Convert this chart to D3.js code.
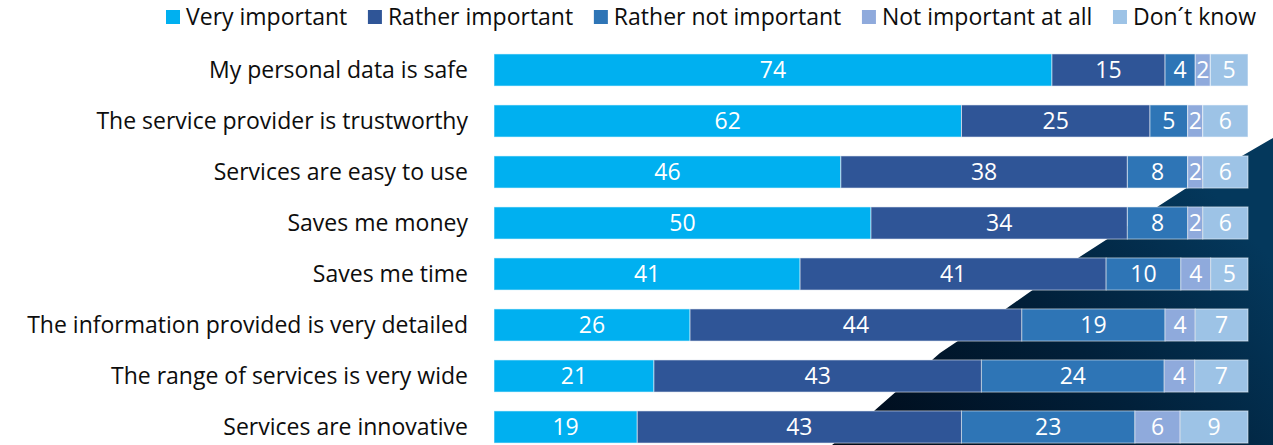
<!DOCTYPE html>
<html><head><meta charset="utf-8">
<script src="https://cdn.jsdelivr.net/npm/d3@7"></script>
<style>html,body{margin:0;padding:0;background:#fff;}svg{display:block;}</style>
</head><body>
<svg id="chart" width="1273" height="445"></svg>
<script>
const categories = [
  "My personal data is safe",
  "The service provider is trustworthy",
  "Services are easy to use",
  "Saves me money",
  "Saves me time",
  "The information provided is very detailed",
  "The range of services is very wide",
  "Services are innovative"
];
const seriesNames = ["Very important","Rather important","Rather not important","Not important at all","Don\u00b4t know"];
const veryImportant      = [74, 62, 46, 50, 41, 26, 21, 19];
const ratherImportant    = [15, 25, 38, 34, 41, 44, 43, 43];
const ratherNotImportant = [4, 5, 8, 8, 10, 19, 24, 23];
const notImportantAtAll  = [2, 2, 2, 2, 4, 4, 4, 6];
const dontKnow           = [5, 6, 6, 6, 5, 7, 7, 9];
const seriesValues = [veryImportant, ratherImportant, ratherNotImportant, notImportantAtAll, dontKnow];
const colors = ["#00b0f0","#2f5597","#2e75b6","#8faadc","#9dc3e6"];

const svg = d3.select("#chart");
const FONT = "'Open Sans', Lato, sans-serif";

// fit font size so the first label width matches the reference (~259px)
const probe = svg.append("text").style("font-family",FONT).style("font-size","20px").text(categories[0]);
const fs = 20 * 259 / probe.node().getComputedTextLength();
probe.remove();
const FS = fs.toFixed(2) + "px";

// decorative background shape
const defs = svg.append("defs");
const grad = defs.append("linearGradient").attr("id","bgGrad")
  .attr("x1","0").attr("y1","1").attr("x2","1").attr("y2","0.4");
grad.append("stop").attr("offset","0").attr("stop-color","#000a18");
grad.append("stop").attr("offset","0.55").attr("stop-color","#01203a");
grad.append("stop").attr("offset","1").attr("stop-color","#04385c");
svg.append("path")
  .attr("d","M1273,138 L1185,189 L1078,258 L1007,308 L940,353 L874,411 L832,445 L1273,445 Z")
  .attr("fill","url(#bgGrad)");

// table
const table = categories.map((c,i) => {
  const row = {category:c};
  seriesNames.forEach((s,j) => row[s] = seriesValues[j][i]);
  return row;
});
const stack = d3.stack().keys(seriesNames).offset(d3.stackOffsetExpand)(table);

const x = d3.scaleLinear().domain([0,1]).range([494,1248]);
const y = d3.scaleBand().domain(categories).range([44.5,452.5]).paddingInner(0.37).paddingOuter(0.185);
const color = d3.scaleOrdinal().domain(seriesNames).range(colors);

const layers = svg.append("g").selectAll("g").data(stack).join("g")
  .attr("fill", d => color(d.key));
layers.selectAll("rect").data(d => d).join("rect")
  .attr("x", d => x(d[0]))
  .attr("y", d => y(d.data.category))
  .attr("width", d => x(d[1]) - x(d[0]))
  .attr("height", y.bandwidth())
  .attr("stroke","rgba(255,255,255,0.55)")
  .attr("stroke-width",1);

layers.selectAll("text").data(d => d.map(v => ({v, key:d.key}))).join("text")
  .attr("x", d => (x(d.v[0]) + x(d.v[1]))/2)
  .attr("y", d => y(d.v.data.category) + y.bandwidth()/2)
  .attr("dy","0.36em")
  .attr("text-anchor","middle")
  .attr("fill","#fff")
  .style("font-family",FONT)
  .style("font-size",FS)
  .text(d => d.v.data[d.key]);

// category axis
const yAxis = d3.axisLeft(y).tickSize(0).tickPadding(0);
const ag = svg.append("g").attr("transform","translate(468,0)").call(yAxis);
ag.select(".domain").remove();
ag.selectAll("text")
  .attr("fill","#0d0d0d")
  .attr("dy","0.36em")
  .style("font-family",FONT)
  .style("font-size",FS);

// legend, spread between x=166 and x=1256
const lg = svg.append("g").selectAll("g").data(seriesNames).join("g");
lg.append("rect").attr("x",0).attr("y",10).attr("width",14).attr("height",14)
  .attr("fill", d => color(d));
lg.append("text").attr("x",20).attr("y",17).attr("dy","0.36em")
  .attr("fill","#0d0d0d")
  .style("font-family",FONT).style("font-size",FS)
  .text(d => d);
const widths = [];
lg.each(function(){ widths.push(20 + d3.select(this).select("text").node().getComputedTextLength()); });
const totalW = d3.sum(widths);
const gap = (1256 - 166 - totalW) / (seriesNames.length - 1);
let cx = 166;
lg.each(function(d,i){ d3.select(this).attr("transform",`translate(${cx},0)`); cx += widths[i] + gap; });
</script>
</body></html>
